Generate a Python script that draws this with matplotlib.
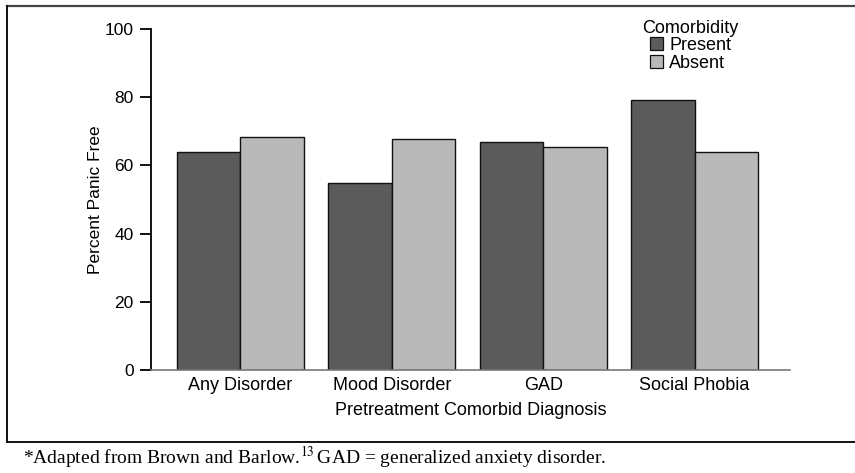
import matplotlib
matplotlib.use("Agg")
import matplotlib.pyplot as plt
from matplotlib.lines import Line2D
from matplotlib.patches import Rectangle
import numpy as np

categories = ["Any Disorder", "Mood Disorder", "GAD", "Social Phobia"]
present = [63.8, 54.9, 66.9, 79.2]
absent = [68.4, 67.6, 65.5, 64.0]
yticks = [0, 20, 40, 60, 80, 100]

W, H = 855, 473
fig = plt.figure(figsize=(W / 100, H / 100), dpi=100)
plt.rcParams['font.family'] = ['Liberation Sans', 'DejaVu Sans']

def fx(px):
    return px / W

def fy(py):
    return 1 - py / H

ax = fig.add_axes([fx(151), fy(370), fx(790) - fx(151), fy(29) - fy(370)])
x = np.arange(len(categories))
bw = 0.42
dark = "#5b5b5b"
light = "#b9b9b9"
ax.bar(x - bw / 2, present, width=bw, color=dark, edgecolor="#111111", linewidth=1.0)
ax.bar(x + bw / 2, absent, width=bw, color=light, edgecolor="#111111", linewidth=1.0)

ax.set_xlim(-0.59, 3.63)
ax.set_ylim(0, 100)
ax.set_yticks(yticks)
ax.set_yticklabels([str(t) for t in yticks], fontsize=12.5)
ax.tick_params(axis='y', direction='out', length=8, width=1.3, pad=4.5, colors='black')
ax.set_xticks(x)
ax.set_xticklabels(categories, fontsize=13)
ax.tick_params(axis='x', length=0, pad=5)
for s in ['top', 'right']:
    ax.spines[s].set_visible(False)
ax.spines['left'].set_linewidth(1.3)
ax.spines['left'].set_bounds(0, 100)
ax.spines['bottom'].set_color('#777777')
ax.spines['bottom'].set_linewidth(1.2)
ax.set_xlabel("Pretreatment Comorbid Diagnosis", fontsize=13, labelpad=6)
ax.set_ylabel("Percent Panic Free", fontsize=12.5, labelpad=1)

# Legend (manual)
fig.text(fx(642), fy(33), "Comorbidity", fontsize=13, ha='left', va='baseline')
fig.patches.append(Rectangle((fx(650), fy(50)), fx(663) - fx(650), fy(37) - fy(50),
                             transform=fig.transFigure, facecolor=dark, edgecolor='#111111', lw=0.9))
fig.text(fx(669), fy(50), "Present", fontsize=13, ha='left', va='baseline')
fig.patches.append(Rectangle((fx(650), fy(68)), fx(663) - fx(650), fy(55) - fy(68),
                             transform=fig.transFigure, facecolor=light, edgecolor='#111111', lw=0.9))
fig.text(fx(669), fy(68), "Absent", fontsize=13, ha='left', va='baseline')

# Frame lines
fig.add_artist(Line2D([fx(7), 1], [fy(6), fy(6)], transform=fig.transFigure, color='#444444', lw=1.6))
fig.add_artist(Line2D([fx(7), fx(7)], [fy(6), fy(442)], transform=fig.transFigure, color='#111111', lw=1.4))
fig.add_artist(Line2D([fx(7), 1], [fy(442), fy(442)], transform=fig.transFigure, color='#111111', lw=1.4))

# Footnote
fig.text(fx(23), fy(457), r"*Adapted from Brown and Barlow.$^{13}\,$GAD = generalized anxiety disorder.",
         fontsize=14, family=['Liberation Serif', 'DejaVu Serif'], ha='left', va='center',
         math_fontfamily='stix')

fig.savefig("out.png", dpi=100)
